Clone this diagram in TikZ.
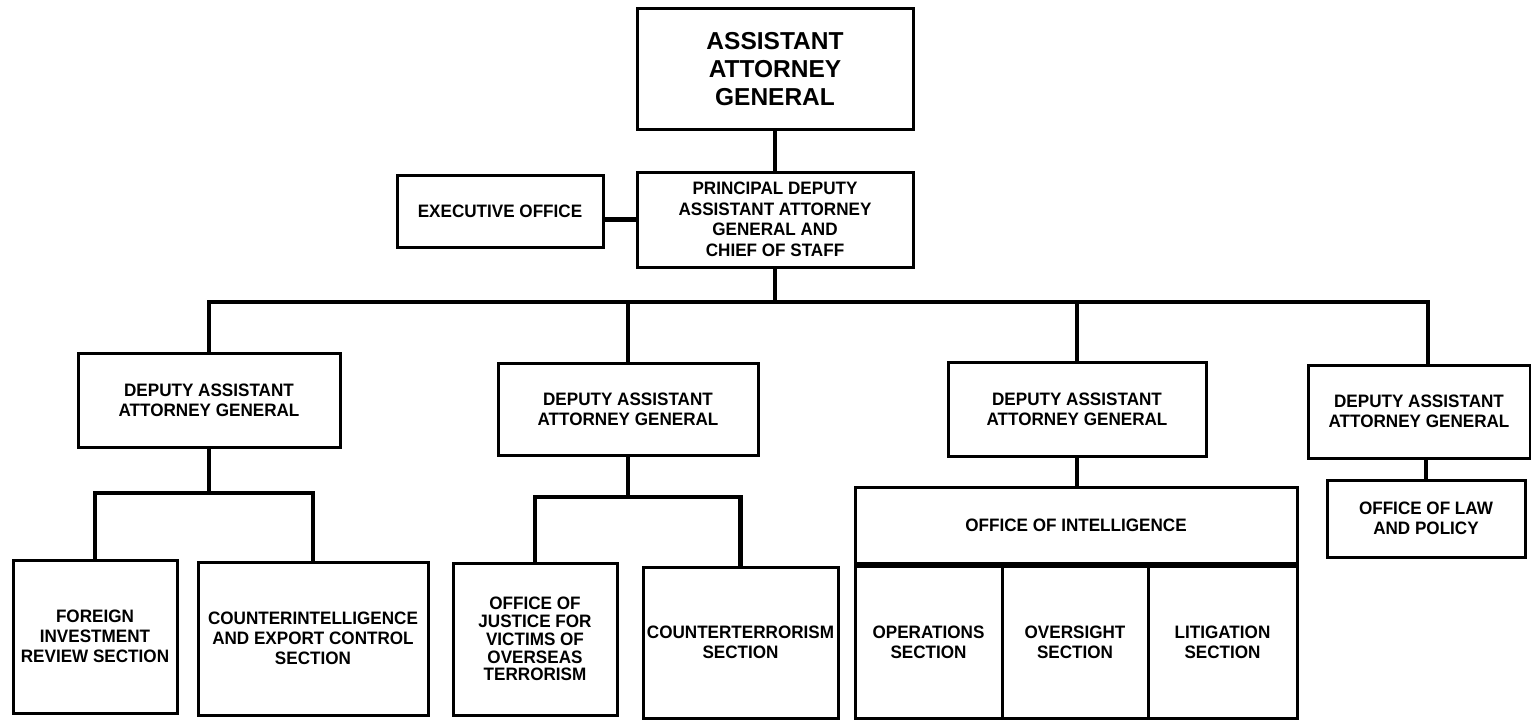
\documentclass[tikz,border=0pt]{standalone}
\usepackage{fontspec}
\setmainfont{Liberation Sans}
\newfontfamily\cond{Liberation Sans}[FakeStretch=0.95]
\begin{document}
\begin{tikzpicture}[x=1pt,y=-1pt,
  box/.style={draw=black,line width=3pt,rectangle,inner sep=0pt,align=center,
    font=\cond\fontsize{18}{20}\selectfont\bfseries},
  bigbox/.style={box,font=\fontsize{24.5}{28}\selectfont\bfseries},
  conn/.style={draw=black,line width=4.5pt}]
\useasboundingbox (0,0) rectangle (1531,721);
% top
\node[bigbox,minimum width=276pt,minimum height=121pt] (AAG) at (775,69) {ASSISTANT\\ATTORNEY\\GENERAL};
\node[box,minimum width=276pt,minimum height=95pt,font=\cond\fontsize{18}{20.5}\selectfont\bfseries] (PD) at (775,219.5) {PRINCIPAL DEPUTY\\ASSISTANT ATTORNEY\\GENERAL AND\\CHIEF OF STAFF};
\node[box,minimum width=206pt,minimum height=72pt] (EX) at (500,211) {EXECUTIVE OFFICE};
% deputies
\node[box,minimum width=262pt,minimum height=94pt] (D1) at (209,400) {DEPUTY ASSISTANT\\ATTORNEY GENERAL};
\node[box,minimum width=260pt,minimum height=92pt] (D2) at (628,409) {DEPUTY ASSISTANT\\ATTORNEY GENERAL};
\node[box,minimum width=258pt,minimum height=94pt] (D3) at (1077,409) {DEPUTY ASSISTANT\\ATTORNEY GENERAL};
\node[box,minimum width=222pt,minimum height=93pt] (D4) at (1419,411.5) {DEPUTY ASSISTANT\\ATTORNEY GENERAL};
% sections
\node[box,minimum width=164pt,minimum height=153pt] (FIR) at (95,636.5) {FOREIGN\\INVESTMENT\\REVIEW SECTION};
\node[box,minimum width=230pt,minimum height=153pt] (CIE) at (313,638.5) {COUNTERINTELLIGENCE\\AND EXPORT CONTROL\\SECTION};
\node[box,minimum width=164pt,minimum height=152pt,font=\cond\fontsize{18}{17.8}\selectfont\bfseries] (OJ) at (535,639) {OFFICE OF\\JUSTICE FOR\\VICTIMS OF\\OVERSEAS\\TERRORISM};
\node[box,minimum width=195pt,minimum height=151pt] (CT) at (740.5,642.5) {COUNTERTERRORISM\\SECTION};
\node[box,minimum width=442pt,minimum height=76pt] (OI) at (1076,525) {OFFICE OF INTELLIGENCE};
\node[box,minimum width=147pt,minimum height=152pt] (OPS) at (928.5,642) {OPERATIONS\\SECTION};
\node[box,minimum width=146pt,minimum height=152pt] (OVS) at (1075,642) {OVERSIGHT\\SECTION};
\node[box,minimum width=149pt,minimum height=152pt] (LIT) at (1222.5,642) {LITIGATION\\SECTION};
\node[box,minimum width=198pt,minimum height=77pt] (OLP) at (1426,518.5) {OFFICE OF LAW\\AND POLICY};
% connectors
\coordinate (busL) at (209,302);
\coordinate (busR) at (1428,302);
\coordinate (j1) at (209,493);
\coordinate (j2) at (628,497);
\draw[conn] (AAG.south) -- (PD.north);
\draw[conn] (PD.west) -- (PD.west -| EX.east);
\draw[conn,line join=miter] (D1.north) |- (busL) -- (busR) -- (busR |- D4.north);
\draw[conn] (PD.south) -- (PD.south |- busL);
\draw[conn] (D2.north) -- (D2.north |- busL);
\draw[conn] (D3.north) -- (D3.north |- busL);
\draw[conn] (D1.south) -- (j1);
\draw[conn,line join=miter] (FIR.north) |- (j1) -| (CIE.north);
\draw[conn] (D2.south) -- (j2);
\draw[conn,line join=miter] (OJ.north) |- (j2) -| (CT.north);
\draw[conn] (D3.south) -- (D3.south |- OI.north);
\draw[conn] (OLP.north) -- (OLP.north |- D4.south);
\end{tikzpicture}
\end{document}
